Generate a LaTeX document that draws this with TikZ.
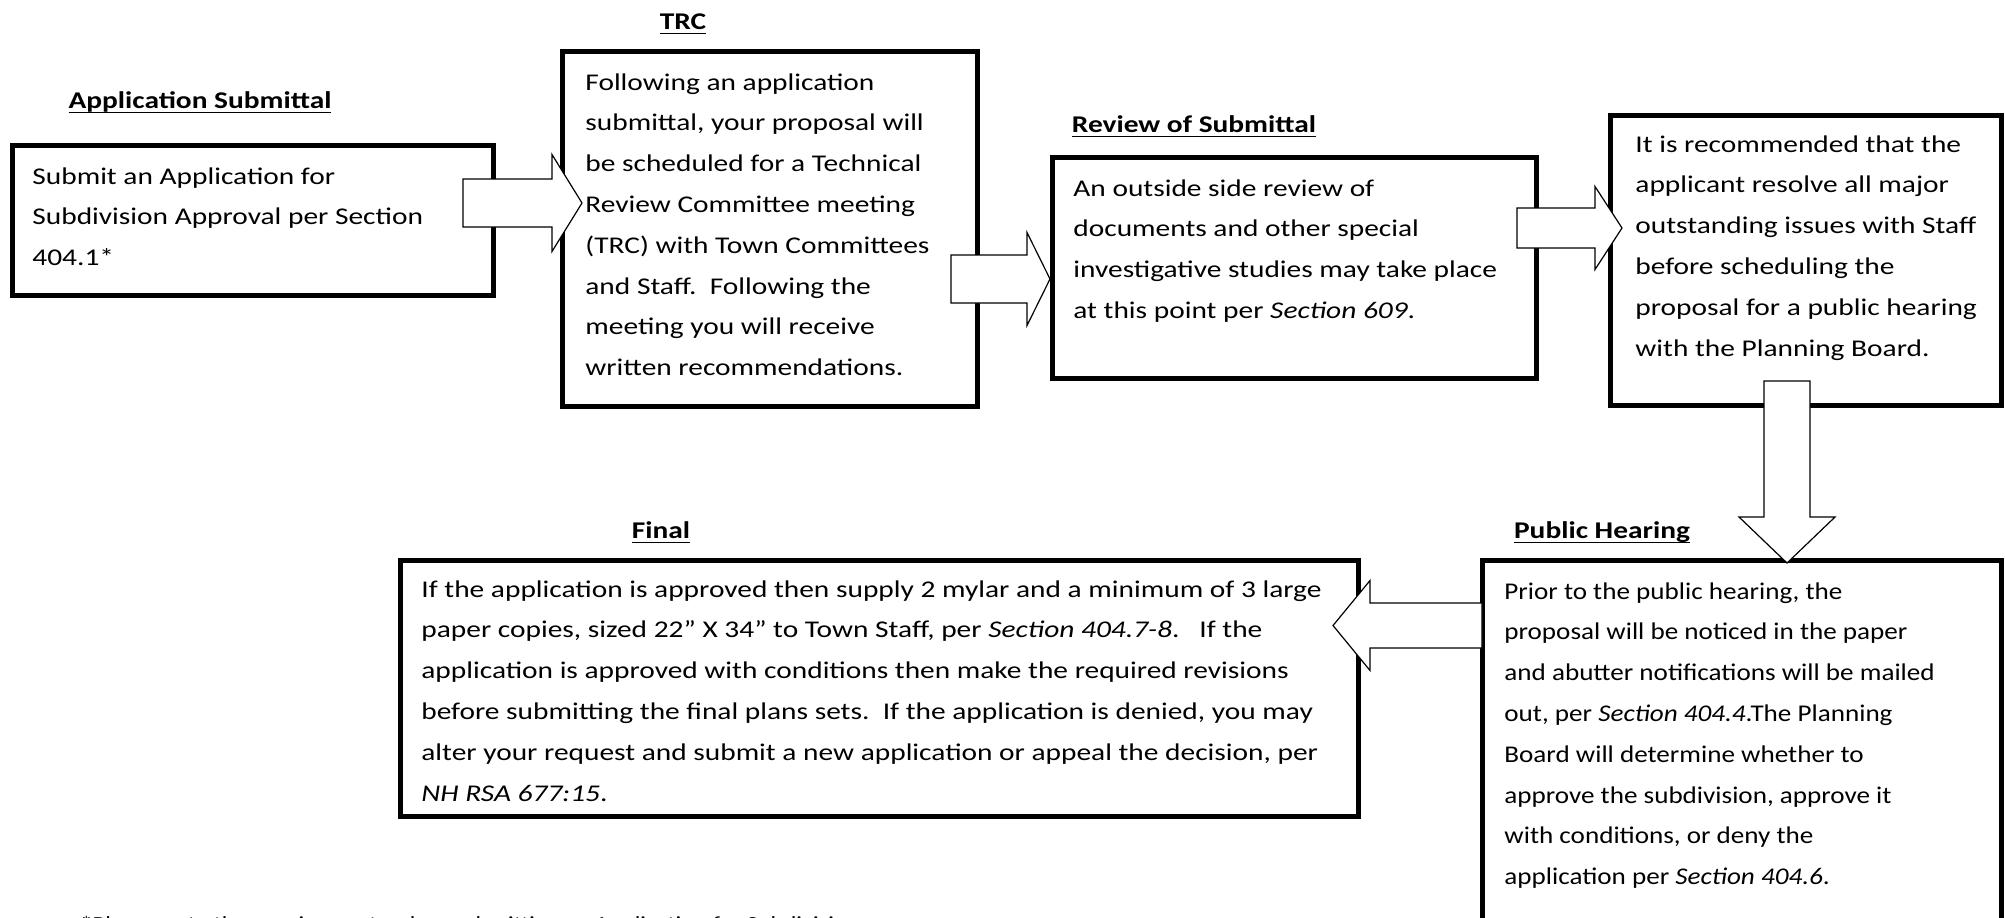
\documentclass[tikz,border=0pt]{standalone}
\usepackage{fontspec}
\setmainfont{Carlito}[FakeStretch=1.225]
\newfontfamily\phfont{Carlito}[FakeStretch=1.13]
\usetikzlibrary{calc}
\tikzset{
  box/.style={draw=black, line width=2.5pt, inner sep=0pt, outer sep=0pt, anchor=north west},
  blk/.style={draw=black, fill=white, line width=0.6pt, line join=miter},
  txt/.style={inner sep=0pt, anchor=base west},
  lbl/.style={inner sep=0pt, anchor=base, font=\fontsize{12pt}{14pt}\selectfont\bfseries},
}
\newcommand\ulbl[1]{\setbox0\hbox{#1}\rlap{\rule[-2.6pt]{\wd0}{0.85pt}}\box0}
\newcommand\para[1]{\parbox[t]{16cm}{\fontsize{12pt}{20.4pt}\selectfont\raggedright #1}}
% tail, tip, head length, shaft half width, head half width
\newcommand\blkarrow[5]{%
  \coordinate (bahead) at ($(#2)!#3!(#1)$);
  \draw[blk] ($(#1)!#4!90:(#2)$) -- ($(bahead)!#4!90:(#2)$) -- ($(bahead)!#5!90:(#2)$)
    -- (#2) -- ($(bahead)!#5!-90:(#2)$) -- ($(bahead)!#4!-90:(#2)$)
    -- ($(#1)!#4!-90:(#2)$) -- cycle;
}
\begin{document}
\begin{tikzpicture}[x=0.5pt,y=-0.5pt]
\useasboundingbox (0,0) rectangle (2005,917);
\clip (0,0) rectangle (2005,917);

% boxes
\node[box, minimum width=240.5pt, minimum height=75pt] (app) at (12,145) {};
\node[box, minimum width=207.5pt, minimum height=177.5pt] (trc) at (562,51) {};
\node[box, minimum width=242pt, minimum height=110.5pt] (rev) at (1052,157) {};
\node[box, minimum width=195.5pt, minimum height=145pt] (rec) at (1610,115) {};
\node[box, minimum width=259.5pt, minimum height=190pt] (ph) at (1482,560) {};
\node[box, minimum width=479pt, minimum height=128pt] (fin) at (400,560) {};

% arrow end points
\coordinate (a1s) at (463,203);  \coordinate (a1e) at (582,203);
\coordinate (a2s) at (951,279);  \coordinate (a2e) at (1050,279);
\coordinate (a3s) at (1517,228); \coordinate (a3e) at (1622,228);
\coordinate (a4s) at (1787,381); \coordinate (a4e) at (1787,563);
\coordinate (a5s) at (1482,625.5); \coordinate (a5e) at (1333,625.5);

\blkarrow{a1s}{a1e}{15pt}{12pt}{24.25pt}
\blkarrow{a2s}{a2e}{11.5pt}{12pt}{23.25pt}
\blkarrow{a3s}{a3e}{13.5pt}{10pt}{20.75pt}
\blkarrow{a4s}{a4e}{23pt}{11.5pt}{24pt}
\blkarrow{a5s}{a5e}{18.5pt}{11.25pt}{22.5pt}

% titles
\node[lbl] (lapp) at (200,108) {\ulbl{Application Submittal}};
\node[lbl] (ltrc) at (683,29) {\ulbl{TRC}};
\node[lbl] (lrev) at (1194,132) {\ulbl{Review of Submittal}};
\node[lbl] (lfin) at (661,538) {\ulbl{Final}};
\node[lbl] (lph) at (1602,538) {\ulbl{Public Hearing}};

% texts
\node[txt] (tapp) at (32,184) {\para{Submit an Application for\\ Subdivision Approval per Section\\ 404.1*}};
\node[txt] (ttrc) at (585,90) {\para{Following an application\\ submittal, your proposal will\\ be scheduled for a Technical\\ Review Committee meeting\\ (TRC) with Town Committees\\ and Staff.\ \ Following the\\ meeting you will receive\\ written recommendations.}};
\node[txt] (trev) at (1073,196) {\para{An outside side review of\\ documents and other special\\ investigative studies may take place\\ at this point per \textit{Section 609}.}};
\node[txt] (trec) at (1635,152) {\para{It is recommended that the\\ applicant resolve all major\\ outstanding issues with Staff\\ before scheduling the\\ proposal for a public hearing\\ with the Planning Board.}};
\node[txt] (tph) at (1504,599) {\para{\phfont Prior to the public hearing, the\\ proposal will be noticed in the paper\\ and abutter notifications will be mailed\\ out, per \textit{Section 404.4}.The Planning\\ Board will determine whether to\\ approve the subdivision, approve it\\ with conditions, or deny the\\ application per \textit{Section 404.6}.}};
\node[txt] (tfin) at (421,597) {\para{If the application is approved then supply 2 mylar and a minimum of 3 large\\ paper copies, sized 22” X 34” to Town Staff, per \textit{Section 404.7-8}.\ \ \ If the\\ application is approved with conditions then make the required revisions\\ before submitting the final plans sets.\ \ If the application is denied, you may\\ alter your request and submit a new application or appeal the decision, per\\ \textit{NH RSA 677:15}.}};
\node[txt] (tnote) at (80,930) {\fontsize{10pt}{12pt}\selectfont *Please note the requirements when submitting an Application for Subdivision};
\end{tikzpicture}
\end{document}
